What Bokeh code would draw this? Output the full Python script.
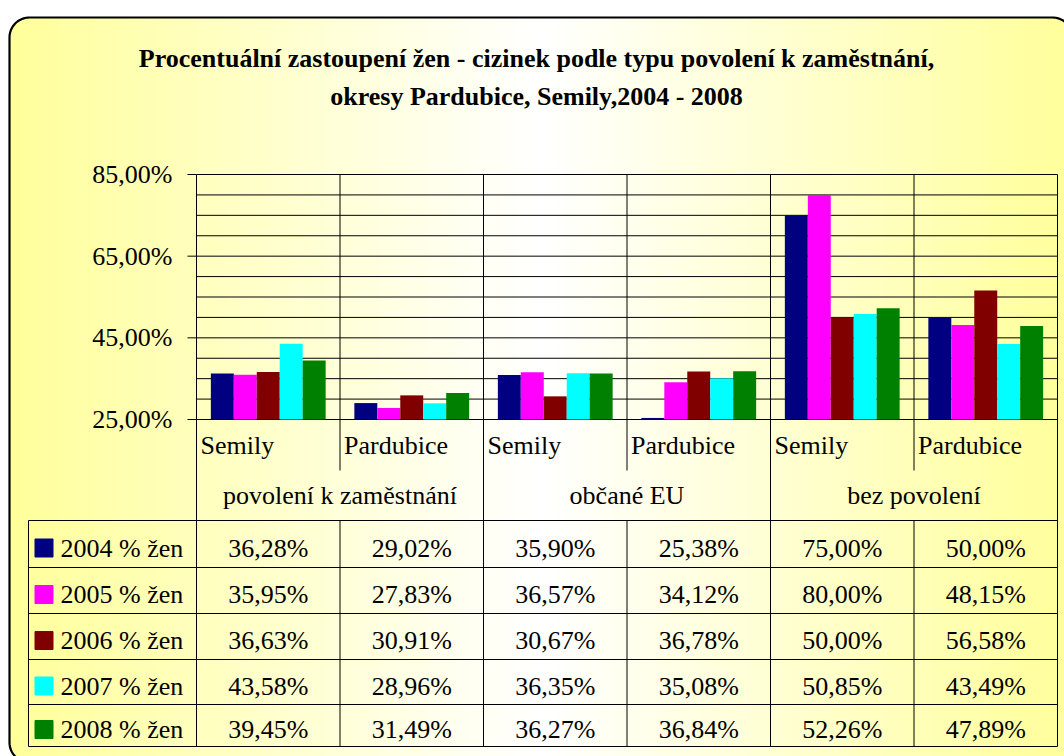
import numpy as np
from bokeh.plotting import figure
from bokeh.models import Range1d
from bokeh.core.properties import value
from bokeh.embed import file_html
from bokeh.resources import INLINE

# ---------------- data ----------------
title_lines = ["Procentuální zastoupení žen - cizinek podle typu povolení k zaměstnání,",
               "okresy Pardubice, Semily,2004 - 2008"]
groups = ["povolení k zaměstnání", "občané EU", "bez povolení"]
districts = ["Semily", "Pardubice"]
series_names = ["2004 % žen", "2005 % žen", "2006 % žen", "2007 % žen", "2008 % žen"]
series_colors = ["#000080", "#FF00FF", "#800000", "#00FFFF", "#008000"]
v2004 = [36.28, 29.02, 35.90, 25.38, 75.00, 50.00]
v2005 = [35.95, 27.83, 36.57, 34.12, 80.00, 48.15]
v2006 = [36.63, 30.91, 30.67, 36.78, 50.00, 56.58]
v2007 = [43.58, 28.96, 36.35, 35.08, 50.85, 43.49]
v2008 = [39.45, 31.49, 36.27, 36.84, 52.26, 47.89]
series_values = [v2004, v2005, v2006, v2007, v2008]
y_ticks = [25, 45, 65, 85]
y_tick_labels = ["25,00%", "45,00%", "65,00%", "85,00%"]
y_grid = [25, 30, 35, 40, 45, 50, 55, 60, 65, 70, 75, 80, 85]

# ---------------- layout (pixels) ----------------
W, H = 1064, 756
X0, X1 = 196, 1057          # plot area left / right
YTOP, YBOT = 174, 419       # pixel of 85 % and 25 %
Y_MIN, Y_MAX = 25, 85
NCAT = len(groups) * len(districts)
ux = (X1 - X0) / NCAT
uy = (YBOT - YTOP) / (Y_MAX - Y_MIN)


def dx(px):
    return (px - X0) / ux


def dy(py):
    return Y_MIN + (YBOT - py) / uy


FONT = value("'Liberation Serif', 'Times New Roman', Tinos, 'DejaVu Serif', serif")

p = figure(width=W, height=H, x_range=Range1d(dx(0), dx(W)), y_range=Range1d(dy(H), dy(0)),
           x_axis_type=None, y_axis_type=None, toolbar_location=None, output_backend="svg",
           min_border=0, outline_line_color=None, background_fill_color="white",
           border_fill_color="white")

# ---------------- background gradient in rounded box ----------------
BL, BT, BR, BB, RAD = 9, 17, 1072, 762, 20
step = 3
lefts, rights, tops, bottoms, cols = [], [], [], [], []
cx = (BL + BR) / 2
half = (BR - BL) / 2
for a in np.arange(BL, BR, step):
    xc = a + step / 2
    off = 0.0
    if xc < BL + RAD:
        d = BL + RAD - xc
        off = RAD - np.sqrt(max(RAD ** 2 - d ** 2, 0))
    elif xc > BR - RAD:
        d = xc - (BR - RAD)
        off = RAD - np.sqrt(max(RAD ** 2 - d ** 2, 0))
    t = min(abs(xc - cx) / half, 1.0)
    b = int(round(255 - 102 * t))
    cols.append("#%02x%02x%02x" % (255, 255, b))
    lefts.append(dx(a - 0.3))
    rights.append(dx(a + step + 0.3))
    tops.append(dy(BT + off))
    bottoms.append(dy(BB - off))
p.quad(left=lefts, right=rights, top=tops, bottom=bottoms, fill_color=cols, line_color=None)

# rounded border
ang = np.linspace(0, np.pi / 2, 20)
bx, by = [], []
bx += [BL, BL]; by += [BB - RAD, BT + RAD]
bx += list(BL + RAD - RAD * np.cos(ang)); by += list(BT + RAD - RAD * np.sin(ang))
bx += [BR - RAD]; by += [BT]
bx += list(BR - RAD + RAD * np.sin(ang)); by += list(BT + RAD - RAD * np.cos(ang))
bx += [BR]; by += [BB - RAD]
bx += list(BR - RAD + RAD * np.cos(ang)); by += list(BB - RAD + RAD * np.sin(ang))
bx += [BL + RAD]; by += [BB]
bx += list(BL + RAD - RAD * np.sin(ang)); by += list(BB - RAD + RAD * np.cos(ang))
p.line([dx(v) for v in bx], [dy(v) for v in by], line_color="black", line_width=2.2)

# ---------------- grid, ticks, separators ----------------
p.segment(x0=[0] * len(y_grid), x1=[NCAT] * len(y_grid), y0=y_grid, y1=y_grid,
          line_color="black", line_width=1)
p.segment(x0=[dx(187)] * len(y_ticks), x1=[0] * len(y_ticks), y0=y_ticks, y1=y_ticks,
          line_color="black", line_width=1)

TABLE_LEFT, TABLE_TOP, TABLE_BOT = 28, 520, 746
SUB_END = 470
row_lines = [520, 567, 613, 659, 704, 746]
vx0, vx1, vy0, vy1 = [], [], [], []
for i in range(NCAT + 1):
    if i % 2 == 0:
        vx0.append(i); vx1.append(i); vy0.append(Y_MAX); vy1.append(dy(TABLE_BOT))
    else:
        vx0 += [i, i]; vx1 += [i, i]
        vy0 += [Y_MAX, dy(TABLE_TOP)]; vy1 += [dy(SUB_END), dy(TABLE_BOT)]
vx0.append(dx(TABLE_LEFT)); vx1.append(dx(TABLE_LEFT))
vy0.append(dy(TABLE_TOP)); vy1.append(dy(TABLE_BOT))
p.segment(x0=vx0, x1=vx1, y0=vy0, y1=vy1, line_color="black", line_width=1)
p.segment(x0=[dx(TABLE_LEFT)] * len(row_lines), x1=[NCAT] * len(row_lines),
          y0=[dy(r) for r in row_lines], y1=[dy(r) for r in row_lines],
          line_color="black", line_width=1)

# ---------------- bars ----------------
BAR_W = 0.16
nser = len(series_values)
for k, (vals, col) in enumerate(zip(series_values, series_colors)):
    xs = [i + 0.5 + (k - (nser - 1) / 2) * BAR_W for i in range(NCAT)]
    p.vbar(x=xs, width=BAR_W, bottom=Y_MIN, top=vals, fill_color=col, line_color=None)

# ---------------- texts ----------------
p.text(x=[dx(536)] * 2, y=[dy(58), dy(96)], text=title_lines, text_font=FONT,
       text_font_size="26px", text_font_style="bold", text_align="center",
       text_baseline="middle", text_color="black")

p.text(x=[dx(172)] * len(y_ticks), y=y_ticks, text=y_tick_labels, text_font=FONT,
       text_font_size="26px", text_align="right", text_baseline="middle", text_color="black")

sub_labels = [districts[i % 2] for i in range(NCAT)]
p.text(x=[i + 4 / ux for i in range(NCAT)], y=[dy(445)] * NCAT, text=sub_labels,
       text_font=FONT, text_font_size="26px", text_align="left", text_baseline="middle",
       text_color="black")
p.text(x=[2 * g + 1 for g in range(len(groups))], y=[dy(495)] * len(groups), text=groups,
       text_font=FONT, text_font_size="26px", text_align="center", text_baseline="middle",
       text_color="black")

row_c = [(row_lines[r] + row_lines[r + 1]) / 2 + 4 for r in range(nser)]
p.scatter(x=[dx(43.5)] * nser, y=[dy(c) for c in row_c], marker="square", size=18,
          fill_color=series_colors, line_color=series_colors)
p.text(x=[dx(60)] * nser, y=[dy(c) for c in row_c], text=series_names, text_font=FONT,
       text_font_size="26px", text_align="left", text_baseline="middle", text_color="black")

tx, ty, tt = [], [], []
for k, vals in enumerate(series_values):
    for i, v in enumerate(vals):
        tx.append(i + 0.5)
        ty.append(dy(row_c[k]))
        tt.append(("%.2f" % v).replace(".", ",") + "%")
p.text(x=tx, y=ty, text=tt, text_font=FONT, text_font_size="26px", text_align="center",
       text_baseline="middle", text_color="black")

open("out.html", "w").write(file_html(p, INLINE))
